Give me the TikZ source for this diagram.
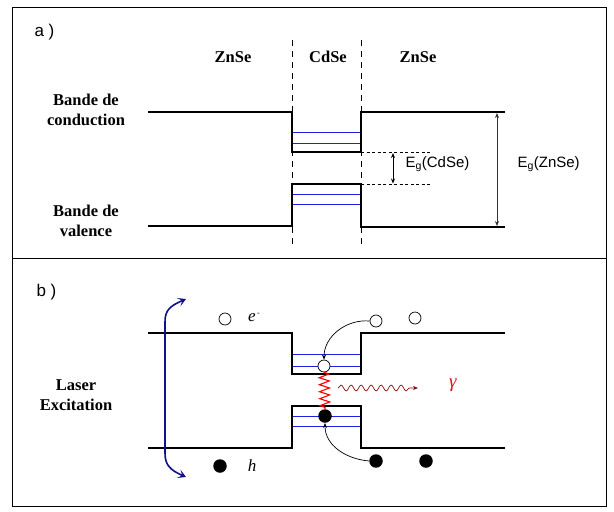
\documentclass[tikz,border=0pt]{standalone}
\usepackage{fontspec}
\setmainfont{Liberation Serif}
\setsansfont{Liberation Sans}
\usepackage{xcolor}
\usetikzlibrary{arrows.meta,decorations.pathmorphing}
\definecolor{levelblue}{HTML}{1F1FE0}
\definecolor{lasernavy}{HTML}{10108A}
\definecolor{photonred}{HTML}{8B0A0A}
\definecolor{gammared}{HTML}{E01010}
\tikzset{
  band/.style={line width=1.7pt,line join=miter},
  level/.style={levelblue,line width=0.8pt},
  iface/.style={line width=0.7pt,dash pattern=on 6pt off 5pt},
  gapline/.style={line width=0.6pt,dash pattern=on 3pt off 2.5pt},
  elec/.style={circle,draw,line width=0.7pt,fill=white,minimum size=12pt,inner sep=0pt},
  hole/.style={circle,fill=black,minimum size=13.5pt,inner sep=0pt},
  layer/.style={font=\bfseries\fontsize{16.5}{18}\selectfont},
  bandlbl/.style={font=\bfseries\fontsize{16.5}{19.5}\selectfont,align=center},
  panel/.style={font=\sffamily\fontsize{17}{19}\selectfont,anchor=west},
  gaplbl/.style={font=\sffamily\fontsize{15}{17}\selectfont,anchor=west},
  carrier/.style={font=\fontsize{17}{19}\selectfont},
}
\begin{document}
\begin{tikzpicture}[x=1pt,y=-1pt,>={Stealth[length=5pt,width=4pt]}]
\useasboundingbox (0,0) rectangle (614,512);
% frame
\draw[line width=0.9pt] (12,7) rectangle (606,506);
\draw[line width=0.9pt] (12,258) -- (606,258);

% ---- a) ----
\node[panel] (lbla) at (31,32) {a )};
\node[layer] (zn1) at (233,57) {ZnSe};
\node[layer] (cd) at (328,57) {CdSe};
\node[layer] (zn2) at (418,57) {ZnSe};
\node[bandlbl] (cb) at (86,110) {Bande de\\conduction};
\node[bandlbl] (vb) at (86,221) {Bande de\\valence};
\draw[iface] (292,40) -- (292,248);
\draw[iface] (361,40) -- (361,248);
\draw[level] (292,132) -- (361,132) (292,143) -- (361,143);
\draw[level] (292,194) -- (361,194) (292,204) -- (361,204);
\draw[band] (148,112) -- (292,112) -- (292,152) -- (361,152) -- (361,112) -- (505,112);
\draw[band] (148,226) -- (292,226) -- (292,184) -- (361,184) -- (361,227) -- (505,227);
\draw[gapline] (361,152) -- (432,152);
\draw[gapline] (361,184) -- (432,184);
\coordinate (cdtop) at (393,153); \coordinate (cdbot) at (393,183.5);
\coordinate (zntop) at (497,113); \coordinate (znbot) at (497,226);
\draw[<->,line width=0.8pt] (cdtop) -- (cdbot);
\draw[<->,line width=0.8pt,black!80] (zntop) -- (znbot);
\node[gaplbl] (egcd) at (402,164) {E\textsubscript{g}(CdSe)};
\node[gaplbl] (egzn) at (514,164) {E\textsubscript{g}(ZnSe)};

% ---- b) ----
\node[panel] (lblb) at (33,292) {b )};
\node[bandlbl] (laser) at (76,395) {Laser\\Excitation};
\draw[level] (292,354) -- (361,354) (292,366) -- (361,366);
\draw[level] (292,416) -- (361,416) (292,426) -- (361,426);
\draw[band] (148,333) -- (292,333) -- (292,374) -- (361,374) -- (361,333) -- (505,333);
\draw[band] (148,448) -- (292,448) -- (292,406) -- (361,406) -- (361,448) -- (505,448);
\coordinate (lasertop) at (186,299); \coordinate (laserbot) at (186,477);
\draw[lasernavy,line width=1.6pt,{Stealth[length=8pt,width=9pt,inset=4pt]}-{Stealth[length=8pt,width=9pt,inset=4pt]}]
  (lasertop) .. controls (170,306) and (165,310) .. (165,322) -- (165,453)
  .. controls (165,465) and (170,470) .. (laserbot);
\node[elec] (e1) at (225,319) {};
\node[carrier] (elbl) at (254,317) {\textit{e}\raisebox{6pt}{\fontsize{8}{9}\selectfont\,-}};
\node[hole] (h1) at (220,466) {};
\node[carrier] (hlbl) at (252,466) {\textit{h}};
\node[elec] (etop) at (376,321) {};
\node[elec] (e3) at (415,318) {};
\node[elec] (ewell) at (324,366) {};
\node[hole] (hwell) at (325,416) {};
\node[hole] (hbot) at (376,461) {};
\node[hole] (h3) at (426,461) {};
\draw[->,line width=0.7pt] (etop.west) to[out=175,in=90] (ewell.north);
\draw[->,line width=0.7pt] (hbot.west) to[out=175,in=-90] (hwell.south);
\draw[red,line width=1.1pt,decorate,decoration={zigzag,segment length=7pt,amplitude=5pt}]
  (ewell.south) -- (hwell.north);
\coordinate (wavestart) at (338,388); \coordinate (waveend) at (418,388);
\draw[photonred,line width=0.7pt,->,decorate,decoration={snake,segment length=10pt,amplitude=3pt,post length=5pt}]
  (wavestart) -- (waveend);
\node[gammared,font=\fontsize{19}{21}\selectfont] (gam) at (453,385) {\textit{γ}};
\end{tikzpicture}
\end{document}
